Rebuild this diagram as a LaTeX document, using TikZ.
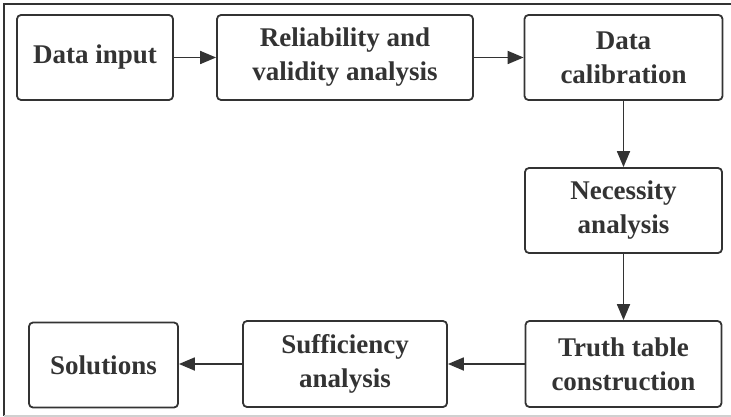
\documentclass[tikz,border=0pt]{standalone}
\usepackage{fontspec}
\setmainfont{Liberation Serif}
\usetikzlibrary{arrows.meta}
\definecolor{inkgray}{HTML}{333333}
\definecolor{framegray}{HTML}{D0D0D0}
\begin{document}
\begin{tikzpicture}[x=1pt,y=-1pt,
    stepbox/.style={draw=inkgray,line width=1.8pt,rounded corners=4pt,align=center,
      inner sep=0pt,text=inkgray,font=\bfseries\fontsize{27}{34}\selectfont},
    flow/.style={draw=inkgray,line width=1.8pt,-{Triangle[length=16pt,width=13pt]}}]
    \useasboundingbox (0,0) rectangle (731,417);
    % frame
    \draw[inkgray,line width=1.4pt] (731,4) -- (4,4) -- (4,416);
    \draw[framegray,line width=1.4pt] (4,416) -- (731,416);

    % top row
    \node[stepbox,minimum width=156pt,minimum height=85pt] (input) at (95,57.5) {Data input};
    \node[stepbox,minimum width=256pt,minimum height=85pt] (reliab) at (345,57.5) {Reliability and\\validity analysis};
    \node[stepbox,minimum width=198pt,minimum height=85pt] (calib) at (623.5,57.5) {Data\\calibration};
    % right column
    \node[stepbox,minimum width=197pt,minimum height=85pt] (necess) at (623.5,210.5) {Necessity\\analysis};
    \node[stepbox,minimum width=196pt,minimum height=86pt] (truth) at (623.5,364) {Truth table\\construction};
    % bottom row
    \node[stepbox,minimum width=204pt,minimum height=86pt] (suffic) at (345,364) {Sufficiency\\analysis};
    \node[stepbox,minimum width=149pt,minimum height=85pt] (solut) at (103.5,365) {Solutions};

    \draw[flow] (input) -- (reliab);
    \draw[flow] (reliab) -- (calib);
    \draw[flow] (calib) -- (necess);
    \draw[flow] (necess) -- (truth);
    \draw[flow] (truth) -- (suffic);
    \draw[flow] (suffic.west) -- (solut.east |- suffic.west);
\end{tikzpicture}
\end{document}
